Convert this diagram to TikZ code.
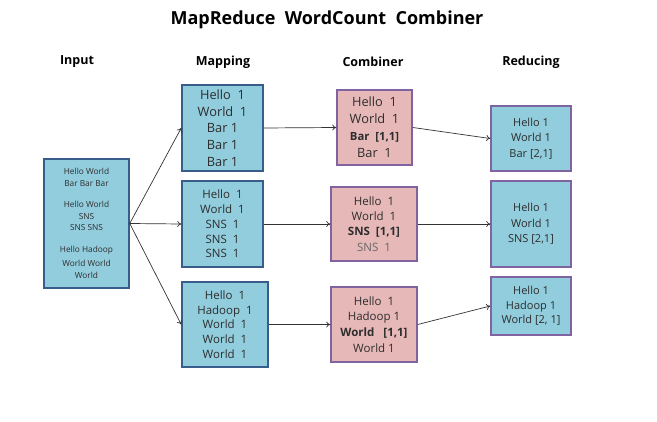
\documentclass[tikz,border=0pt]{standalone}
\usepackage{fontspec}
\setmainfont{Open Sans}
\usetikzlibrary{arrows.meta}
\definecolor{bluefill}{RGB}{146,205,221}
\definecolor{blueedge}{RGB}{56,93,138}
\definecolor{pinkfill}{RGB}{230,185,184}
\definecolor{purpleedge}{RGB}{128,100,162}
\definecolor{txt}{RGB}{45,45,45}
\begin{document}
\begin{tikzpicture}[x=1pt,y=-1pt,
  box/.style={draw, line width=1.5pt, align=center, inner sep=0pt, text=txt},
  mapbox/.style={box, fill=bluefill, draw=blueedge},
  combbox/.style={box, fill=pinkfill, draw=purpleedge},
  redbox/.style={box, fill=bluefill, draw=purpleedge},
  header/.style={font=\bfseries\fontsize{12.5}{14}\selectfont},
  conn/.style={-{To[length=4pt,width=6pt]}, line width=0.7pt, draw=black!80}]
\useasboundingbox (0,0) rectangle (657,422);
\node[font=\bfseries\fontsize{18}{20}\selectfont] (title) at (327,20) {MapReduce\ \ WordCount\ \ Combiner};
\node[header] (hin) at (77,62) {Input};
\node[header] (hmap) at (223,62) {Mapping};
\node[header] (hcomb) at (373,62) {Combiner};
\node[header] (hred) at (531,62) {Reducing};
% input
\node[mapbox, minimum width=85pt, minimum height=129pt, font=\fontsize{8.3}{11.5}\selectfont] (in) at (86.5,223.5)
  {Hello World\\Bar Bar Bar\\[10pt]Hello World\\SNS\\SNS SNS\\[10pt]Hello Hadoop\\[3pt]World World\\World};
% mapping
\node[mapbox, minimum width=81pt, minimum height=86pt, font=\fontsize{12.8}{16.75}\selectfont] (m1) at (222.5,128)
  {Hello\ \ 1\\World\ \ 1\\Bar 1\\Bar 1\\Bar 1};
\node[mapbox, minimum width=81pt, minimum height=86pt, font=\fontsize{11.5}{14.75}\selectfont] (m2) at (222.5,224)
  {Hello\ \ 1\\World\ \ 1\\SNS\ \ 1\\SNS\ \ 1\\SNS\ \ 1};
\node[mapbox, minimum width=86pt, minimum height=85pt, font=\fontsize{11.5}{14.75}\selectfont] (m3) at (225,324.5)
  {Hello\ \ 1\\Hadoop\ \ 1\\World\ \ 1\\World\ \ 1\\World\ \ 1};
% combiner
\node[combbox, minimum width=75pt, minimum height=75pt, font=\fontsize{12.8}{17}\selectfont] (c1) at (374.5,127.5)
  {Hello\ \ 1\\World\ \ 1\\\textbf{\fontsize{11.3}{17}\selectfont Bar\ \ [1,1]}\\Bar\ \ 1};
\node[combbox, minimum width=86pt, minimum height=74pt, font=\fontsize{11.5}{15.3}\selectfont] (c2) at (374,224)
  {Hello\ \ 1\\World\ \ 1\\\textbf{SNS\ \ [1,1]}\\\textcolor{black!60}{SNS\ \ 1}};
\node[combbox, minimum width=86pt, minimum height=75pt, font=\fontsize{11.5}{15.7}\selectfont] (c3) at (374,324.5)
  {Hello\ \ 1\\Hadoop 1\\\textbf{World\ \ \ [1,1]}\\World 1};
% reducing
\node[redbox, minimum width=80pt, minimum height=65pt, font=\fontsize{11}{15.5}\selectfont] (r1) at (531,138.5)
  {Hello 1\\World 1\\Bar [2,1]};
\node[redbox, minimum width=80pt, minimum height=86pt, font=\fontsize{11}{15.5}\selectfont] (r2) at (531,224)
  {Hello 1\\World 1\\SNS [2,1]};
\node[redbox, minimum width=80pt, minimum height=58pt, font=\fontsize{11}{14.5}\selectfont] (r3) at (531,306)
  {Hello 1\\Hadoop 1\\World [2, 1]};
% connectors
\draw[conn] (in.east) -- (m1.west);
\draw[conn] (in.east) -- (m2.west);
\draw[conn] (in.east) -- (m3.west);
\draw[conn] (m1.east) -- (c1.west);
\draw[conn] (m2.east) -- (c2.west);
\draw[conn] (m3.east) -- (c3.west);
\draw[conn] (c1.east) -- (r1.west);
\draw[conn] (c2.east) -- (r2.west);
\draw[conn] (c3.east) -- (r3.west);
\end{tikzpicture}
\end{document}
